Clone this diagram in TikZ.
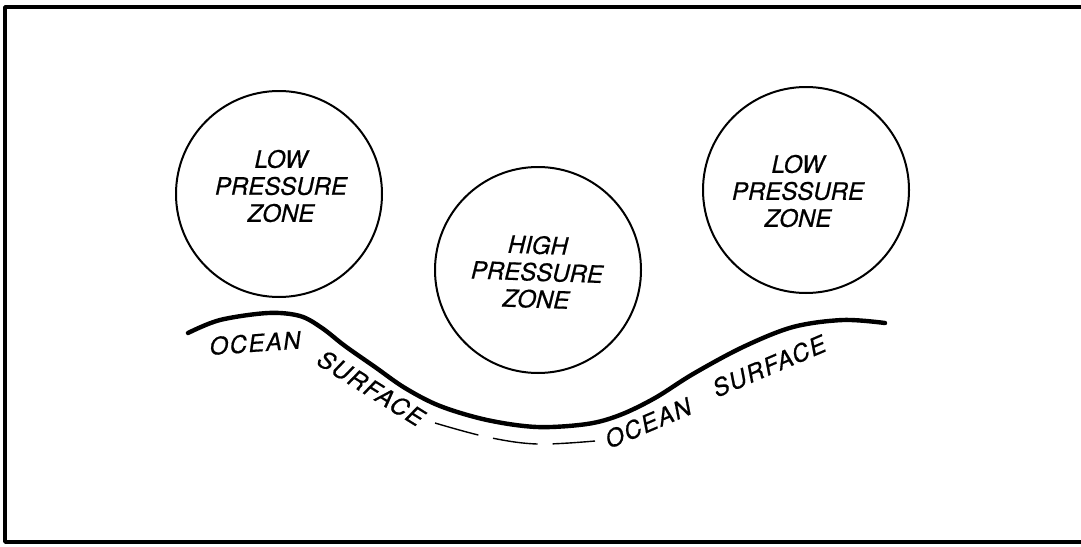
\documentclass[tikz,border=0pt]{standalone}
\usepackage{fontspec}
\newfontfamily\zonefont[FakeBold=0.6]{TeX Gyre Heros}
\newfontfamily\oceanfont[LetterSpace=6,FakeBold=0.6]{TeX Gyre Heros}
\usepackage{tikz}

\begin{document}
\begin{tikzpicture}[x=0.5pt,y=-0.5pt,
    zone/.style={circle,draw,line width=1pt,minimum size=103pt,inner sep=0pt},
    zonetext/.style={align=center,font=\zonefont\itshape\fontsize{12}{13.5}\selectfont},
    seatext/.style={font=\oceanfont\itshape\fontsize{12}{13.5}\selectfont,inner sep=0pt}]
        \useasboundingbox (0,0) rectangle (1081,546);
        \draw[line width=1.8pt,line join=round] (1081,7) -- (5,7) -- (5,542) -- (1081,542);
        \node[zone] (lowleft) at (279,194) {};
        \node[zone] (high) at (538,270) {};
        \node[zone] (lowright) at (806,190) {};
        \node[zonetext] (lowlefttext) at (281,186) {LOW\\PRESSURE\\ZONE};
        \node[zonetext,rotate=-2] (hightext) at (537,272) {HIGH\\PRESSURE\\ZONE};
        \node[zonetext] (lowrighttext) at (798,191) {LOW\\PRESSURE\\ZONE};
        \draw[line width=2.2pt,line cap=round] plot[smooth,tension=0.55] coordinates {(188,333) (220,320) (268,313) (300,316) (322,328) (345,346) (375,367) (405,388) (440,406) (487,420) (537,427) (587,424) (620,415) (655,398) (693,374) (743,347) (793,327) (843,320) (885,323)};
        \draw[line width=0.7pt,dash pattern=on 22.5pt off 7.5pt] plot[smooth,tension=0.6] coordinates {(435,423) (487,437) (537,444) (595,441)};
        \node[seatext,rotate=4] (oceanleft) at (255,343) {OCEAN};
        \node[seatext,rotate=-32] (surfaceleft) at (371,388) {SURFACE};
        \node[seatext,rotate=23] (oceanright) at (648,423) {OCEAN};
        \node[seatext,rotate=23] (surfaceright) at (769,366) {SURFACE};
      \end{tikzpicture}
\end{document}
